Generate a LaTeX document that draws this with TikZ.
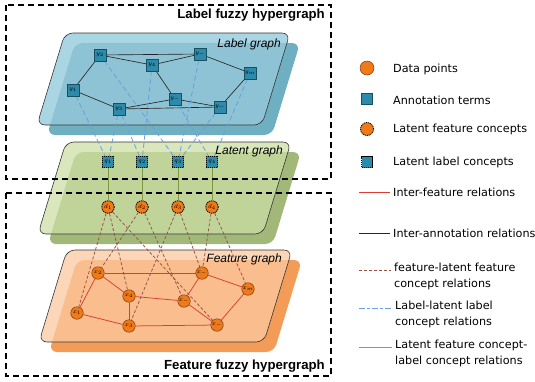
\documentclass[tikz,border=0pt]{standalone}
\usepackage{fontspec}
\setmainfont{Liberation Sans}
\newfontfamily\legendfont{DejaVu Sans}
\usetikzlibrary{calc}

\definecolor{blueFront}{HTML}{AAD6E4}
\definecolor{blueMid}{HTML}{8DC3D4}
\definecolor{blueBack}{HTML}{6EAFC2}
\definecolor{greenFront}{HTML}{DAE6BC}
\definecolor{greenMid}{HTML}{C0D49A}
\definecolor{greenBack}{HTML}{A2B878}
\definecolor{orangeFront}{HTML}{FCD6B8}
\definecolor{orangeMid}{HTML}{F9BD8E}
\definecolor{orangeBack}{HTML}{F29C58}
\definecolor{termFill}{HTML}{2C8BAA}
\definecolor{termDraw}{HTML}{1B4F60}
\definecolor{pointFill}{HTML}{F07A1A}
\definecolor{pointDraw}{HTML}{7A3A10}
\definecolor{featRed}{HTML}{DC3C32}
\definecolor{labBlue}{HTML}{6E9EDC}
\definecolor{latBrown}{HTML}{965046}
\definecolor{latOlive}{HTML}{7E9A40}
\definecolor{legOlive}{HTML}{A09A50}

\pgfdeclarelayer{sheets}
\pgfdeclarelayer{links}
\pgfsetlayers{sheets,links,main}

% rounded parallelogram whose top-left corner is at (#1,#2)
\newcommand\planepath[2]{(#1,#2) -- (#1+225,#2) -- (#1+197,#2+92) -- (#1-28,#2+92) -- cycle}
% back sheet, front sheet and the shade where they overlap
\newcommand\drawplane[5]{%
  \fill[#5, rounded corners=8pt] \planepath{#1+10}{#2+10};
  \fill[#3, rounded corners=8pt] \planepath{#1}{#2};
  \begin{scope}
    \clip[rounded corners=8pt] \planepath{#1}{#2};
    \fill[#4, rounded corners=8pt] \planepath{#1+10}{#2+10};
  \end{scope}
  \draw[black!80, line width=0.6pt, rounded corners=8pt] \planepath{#1}{#2};
}

\tikzset{
  term/.style={rectangle, fill=termFill, draw=termDraw, line width=0.5pt,
    minimum size=11.5pt, inner sep=0pt, font=\fontsize{6.5}{6.5}\selectfont},
  latterm/.style={term, draw=black, dash pattern=on 1.2pt off 0.8pt, line width=0.8pt},
  point/.style={circle, fill=pointFill, draw=pointDraw, line width=0.5pt,
    minimum size=12.5pt, inner sep=0pt, font=\fontsize{6.5}{6.5}\selectfont},
  latpoint/.style={point, draw=black, dash pattern=on 1.2pt off 0.8pt, line width=0.8pt},
  annrel/.style={draw=black!85, line width=0.65pt},
  featrel/.style={draw=featRed, line width=0.75pt},
  labrel/.style={draw=labBlue, line width=0.8pt, dash pattern=on 5pt off 3pt},
  latrel/.style={draw=latBrown, line width=0.75pt, dash pattern=on 3pt off 2pt},
  conrel/.style={draw=latOlive, line width=0.75pt},
  hyperbox/.style={draw=black, line width=1.1pt, dash pattern=on 6pt off 4pt},
  boxtitle/.style={font=\fontsize{13.2}{14}\selectfont\bfseries, anchor=east, inner sep=0pt},
  planetitle/.style={font=\fontsize{12}{12}\selectfont\itshape, anchor=east, inner sep=0pt},
  legtext/.style={font=\legendfont\fontsize{11.2}{15.5}\selectfont, anchor=west, align=left, inner sep=0pt},
}

\begin{document}
\begin{tikzpicture}[x=1pt, y=-1pt]
\useasboundingbox (0,0) rectangle (535,381);

% three sheets
\begin{pgfonlayer}{sheets}
\drawplane{65}{33}{blueFront}{blueMid}{blueBack}
\drawplane{66}{142}{greenFront}{greenMid}{greenBack}
\drawplane{67}{250}{orangeFront}{orangeMid}{orangeBack}
\end{pgfonlayer}

\node[planetitle] (tlab) at (281,44) {Label graph};
\node[planetitle] (tlat) at (283,151) {Latent graph};
\node[planetitle] (tfeat) at (282,259) {Feature graph};

% label graph
\node[term] (y1) at (73,90) {$y_1$};
\node[term] (y2) at (100,55) {$y_2$};
\node[term] (y3) at (119,109) {$y_3$};
\node[term] (y4) at (152,65) {$y_4$};
\node[term] (y5) at (200,54) {$y_{-}$};
\node[term] (y6) at (175,99) {$y_{-}$};
\node[term] (y7) at (220,107) {$y_{-}$};
\node[term] (ym) at (250,73) {$y_m$};

% latent concepts
\foreach \i/\x in {1/108,2/142,3/178,4/212}{
  \node[latterm] (q\i) at (\x,162) {$q_\i$};
  \node[latpoint] (d\i) at (\x,207) {$d_\i$};
}

% feature graph
\node[point] (x1) at (77,313) {$x_1$};
\node[point] (x2) at (98,273) {$x_2$};
\node[point] (x3) at (129,326) {$x_3$};
\node[point] (x4) at (129,296) {$x_4$};
\node[point] (x5) at (202,273) {$x_{-}$};
\node[point] (x6) at (184,301) {$x_{-}$};
\node[point] (x7) at (217,325) {$x_{-}$};
\node[point] (xm) at (248,289) {$x_m$};

\begin{pgfonlayer}{links}
% inter-annotation relations
\foreach \a/\b in {y2/y4, y2/y5, y4/y5, y5/ym, y2/y1, y1/y3, y3/y6, y3/y7, y6/y7, y4/y6, ym/y7}
  \draw[annrel] (\a) -- (\b);
% label - latent label concept relations
\foreach \a/\b in {y1/q1, y3/q1, y3/q2, y4/q2, y2/q3, y5/q3, y7/q3, y6/q4, ym/q4}
  \draw[labrel] (\a) -- (\b);
% latent feature concept - latent label concept relations
\foreach \i in {1,2,3,4}
  \draw[conrel] (q\i) -- (d\i);
% inter-feature relations
\foreach \a/\b in {x2/x5, x2/x4, x2/x1, x1/x3, x4/x3, x4/x6, x6/x5, x5/xm, x6/x7, x3/x7, xm/x7}
  \draw[featrel] (\a) -- (\b);
% feature - latent feature concept relations
\foreach \a/\b in {d1/x1, d1/x4, d1/x7, d2/x2, d2/x6, d3/x3, d3/x5, d4/x5, d4/xm}
  \draw[latrel] (\a) -- (\b);
\end{pgfonlayer}

% the two fuzzy hypergraphs
\draw[hyperbox] (6,5) rectangle (331,179);
\draw[hyperbox] (6,193) rectangle (331,376);
\node[boxtitle] (hlab) at (325,15) {Label fuzzy hypergraph};
\node[boxtitle] (hfeat) at (325,366) {Feature fuzzy hypergraph};

% legend
\node[point, minimum size=14pt] (l1) at (367,68) {};
\node[legtext] (t1) at (393,69) {Data points};
\node[term, minimum size=11pt] (l2) at (367,99) {};
\node[legtext] (t2) at (393,100) {Annotation terms};
\node[latpoint, minimum size=13pt] (l3) at (367,129) {};
\node[legtext] (t3) at (393,129) {Latent feature concepts};
\node[latterm, minimum size=11pt] (l4) at (367,162) {};
\node[legtext] (t4) at (393,162) {Latent label concepts};

\coordinate (a5) at (359,192); \coordinate (b5) at (390,192);
\draw[featrel, line width=0.6pt] (a5) -- (b5);
\node[legtext] (t5) at (393,192) {Inter-feature relations};

\coordinate (a6) at (359,233); \coordinate (b6) at (390,233);
\draw[annrel] (a6) -- (b6);
\node[legtext] (t6) at (393,233) {Inter-annotation relations};

\coordinate (a7) at (359,270); \coordinate (b7) at (391,270);
\draw[latrel] (a7) -- (b7);
\node[legtext, anchor=north west] (t7) at (394,263) {feature-latent feature\\concept relations};

\coordinate (a8) at (359,308); \coordinate (b8) at (392,308);
\draw[labrel, dash pattern=on 6pt off 2pt on 3pt off 2pt] (a8) -- (b8);
\node[legtext, anchor=north west] (t8) at (395,301) {Label-latent label\\concept relations};

\coordinate (a9) at (359,347); \coordinate (b9) at (392,347);
\draw[conrel, draw=legOlive] (a9) -- (b9);
\node[legtext, anchor=north west] (t9) at (395,340) {Latent feature concept-\\label concept relations};
\end{tikzpicture}
\end{document}
